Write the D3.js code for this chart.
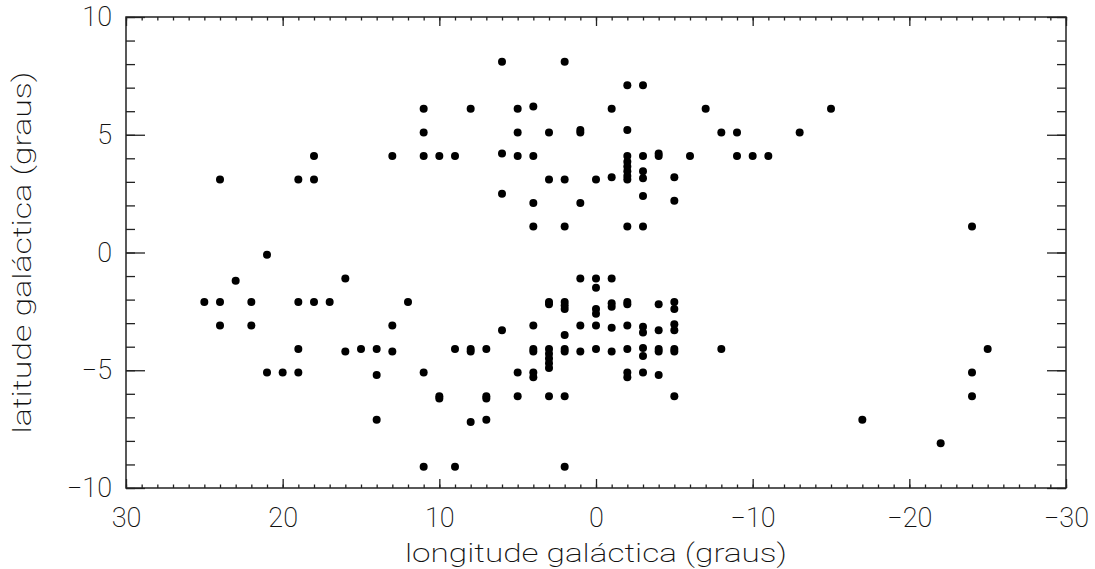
<!DOCTYPE html>
<html>
<head>
<meta charset="utf-8">
<script src="https://cdn.jsdelivr.net/npm/d3@7"></script>
<style>
html,body{margin:0;padding:0;background:#fff;}
svg{display:block;}
text{font-family:Roboto,"DejaVu Sans",sans-serif;font-weight:300;fill:#111;}
</style>
</head>
<body>
<svg id="chart" width="1095" height="569"></svg>
<script>
// galactic longitude (deg) and latitude (deg) of each source
const lon = [
  24,19,18,18,13,
  6,2,-2,-3,
  11,8,5,4,-1,-7,-15,
  11,5,3,1,1,-2,-8,-9,-13,
  11,10,9,6,5,4,-2,-3,-4,-4,-6,-9,-10,-11,
  -2,-2,-2,-2,-2,
  -3,-3,
  3,2,0,-1,-5,
  6,4,1,-3,-5,
  4,2,-2,-3,-24,
  21,23,16,
  25,24,22,19,18,17,12,
  24,22,13,
  19,16,15,14,13,
  21,20,19,14,11,
  14,
  10,10,9,8,8,7,8,7,7,7,
  11,9,2,
  6,5,5,
  4,4,4,4,4,
  3,3,3,3,3,3,3,3,
  2,2,2,2,2,2,2,
  1,1,1,
  0,0,0,0,0,0,
  -1,-1,-1,-1,-1,
  -2,-2,-2,-2,-2,-2,
  -3,-3,-3,-3,-3,
  -4,-4,-4,-4,-4,
  -5,-5,-5,-5,-5,-5,-5,
  -8,-17,-22,-24,-24,-25
];
const lat = [
  3.1,3.1,3.1,4.1,4.1,
  8.1,8.1,7.1,7.1,
  6.1,6.1,6.1,6.2,6.1,6.1,6.1,
  5.1,5.1,5.1,5.1,5.2,5.2,5.1,5.1,5.1,
  4.1,4.1,4.1,4.2,4.1,4.1,4.1,4.1,4.1,4.2,4.1,4.1,4.1,4.1,
  3.85,3.65,3.45,3.25,3.1,
  3.45,3.15,
  3.1,3.1,3.1,3.2,3.2,
  2.5,2.1,2.1,2.4,2.2,
  1.1,1.1,1.1,1.1,1.1,
  -0.1,-1.2,-1.1,
  -2.1,-2.1,-2.1,-2.1,-2.1,-2.1,-2.1,
  -3.1,-3.1,-3.1,
  -4.1,-4.2,-4.1,-4.1,-4.2,
  -5.1,-5.1,-5.1,-5.2,-5.1,
  -7.1,
  -6.1,-6.2,-4.1,-4.1,-4.2,-4.1,-7.2,-7.1,-6.1,-6.2,
  -9.1,-9.1,-9.1,
  -3.3,-5.1,-6.1,
  -3.1,-4.1,-4.2,-5.1,-5.3,
  -2.1,-2.2,-4.1,-4.3,-4.5,-4.7,-4.9,-6.1,
  -2.1,-2.25,-2.4,-3.5,-4.1,-4.2,-6.1,
  -1.1,-3.1,-4.2,
  -1.1,-1.5,-2.4,-2.6,-3.1,-4.1,
  -1.1,-2.15,-2.3,-3.2,-4.2,
  -2.1,-2.2,-3.1,-4.1,-5.1,-5.3,
  -3.15,-3.4,-4.05,-4.4,-5.1,
  -2.2,-3.3,-4.1,-4.2,-5.2,
  -2.1,-2.4,-3.05,-3.3,-4.1,-4.2,-6.1,
  -4.1,-7.1,-8.1,-5.1,-6.1,-4.1
];
const xMajorTicks = [30,20,10,0,-10,-20,-30];
const yMajorTicks = [-10,-5,0,5,10];
const xMinorTicks = d3.range(-30,31,1);
const yMinorTicks = d3.range(-10,11,1);
const xTitle = "longitude galáctica (graus)";
const yTitle = "latitude galáctica (graus)";

const L = 126, R = 1066, T = 17, B = 488;
const svg = d3.select("#chart");
const x = d3.scaleLinear().domain([30,-30]).range([L,R]);
const y = d3.scaleLinear().domain([-10,10]).range([B,T]);
const fmt = d => (d < 0 ? "\u2212" + Math.abs(d) : String(d));

function styleAxis(g){
  g.select(".domain").remove();
  g.selectAll(".tick line").attr("stroke","#222").attr("stroke-width",1.3);
  g.selectAll("text").style("font-size","27px").style("font-family","Roboto, 'DejaVu Sans', sans-serif").style("font-weight","200").attr("fill","#111");
}
// bottom
svg.append("g").attr("transform",`translate(0,${B})`)
  .call(d3.axisBottom(x).tickValues(xMinorTicks).tickSize(-3.5).tickFormat("")).call(styleAxis);
svg.append("g").attr("transform",`translate(0,${B})`)
  .call(d3.axisBottom(x).tickValues(xMajorTicks).tickSize(-9).tickPadding(20).tickFormat(fmt)).call(styleAxis);
// top
svg.append("g").attr("transform",`translate(0,${T})`)
  .call(d3.axisTop(x).tickValues(xMinorTicks).tickSize(-3.5).tickFormat("")).call(styleAxis);
svg.append("g").attr("transform",`translate(0,${T})`)
  .call(d3.axisTop(x).tickValues(xMajorTicks).tickSize(-9).tickFormat("")).call(styleAxis);
// left
svg.append("g").attr("transform",`translate(${L},0)`)
  .call(d3.axisLeft(y).tickValues(yMinorTicks).tickSize(-9).tickFormat("")).call(styleAxis);
svg.append("g").attr("transform",`translate(${L},0)`)
  .call(d3.axisLeft(y).tickValues(yMajorTicks).tickSize(-19).tickPadding(14).tickFormat(fmt)).call(styleAxis);
// right
svg.append("g").attr("transform",`translate(${R},0)`)
  .call(d3.axisRight(y).tickValues(yMinorTicks).tickSize(-9).tickFormat("")).call(styleAxis);
svg.append("g").attr("transform",`translate(${R},0)`)
  .call(d3.axisRight(y).tickValues(yMajorTicks).tickSize(-19).tickFormat("")).call(styleAxis);

// frame
svg.append("rect").attr("x",L).attr("y",T).attr("width",R-L).attr("height",B-T)
  .attr("fill","none").attr("stroke","#222").attr("stroke-width",1.5);

// points
svg.append("g").selectAll("circle").data(lon.map((d,i)=>[d,lat[i]])).join("circle")
  .attr("cx",d=>x(d[0])).attr("cy",d=>y(d[1])).attr("r",4).attr("fill","#000");

// titles
svg.append("text").attr("x",(L+R)/2).attr("y",562).attr("text-anchor","middle")
  .style("font-size","25px").style("font-weight","200").attr("textLength",382).attr("lengthAdjust","spacingAndGlyphs").text(xTitle);
svg.append("text").attr("transform",`translate(31,${(T+B)/2}) rotate(-90)`).attr("text-anchor","middle")
  .style("font-size","26px").style("font-weight","200").attr("textLength",362).attr("lengthAdjust","spacingAndGlyphs").text(yTitle);
</script>
</body>
</html>
